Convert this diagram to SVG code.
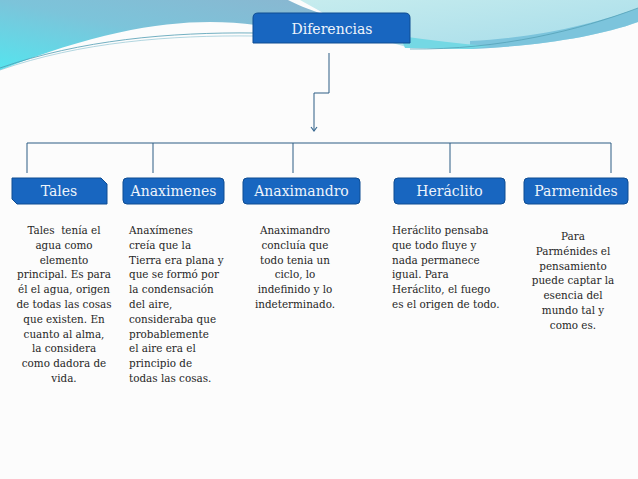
<svg xmlns="http://www.w3.org/2000/svg" width="638" height="479" viewBox="0 0 638 479">
<defs>
<linearGradient id="gl" x1="0" y1="1" x2="1" y2="0">
<stop offset="0" stop-color="#55e4ee"/>
<stop offset="0.5" stop-color="#7cc4da"/>
<stop offset="1" stop-color="#8ab6d0"/>
</linearGradient>
<linearGradient id="gr" x1="0" y1="0" x2="1" y2="1">
<stop offset="0" stop-color="#c6ecee"/>
<stop offset="1" stop-color="#a6dcea"/>
</linearGradient>
<marker id="arr" markerWidth="8" markerHeight="8" refX="6" refY="4" orient="auto" markerUnits="userSpaceOnUse">
<path d="M2,1 L6,4 L2,7" fill="none" stroke="#3a6a92" stroke-width="1.2"/>
</marker>
</defs>
<style>
.box{fill:#1866c0;stroke:#0e4c92;stroke-width:1}
.lbl{font-family:"DejaVu Serif","Liberation Serif",serif;font-size:14px;fill:#eef4fb;text-anchor:middle}
.body{font-family:"DejaVu Serif","Liberation Serif",serif;font-size:10.4px;fill:#262626;white-space:pre}
.c{text-anchor:middle}
.con{fill:none;stroke:#2c5c84;stroke-width:1}
</style>
<rect width="638" height="479" fill="#fcfcfc"/>
<g id="background">
<path d="M0,0 H288 C300,6 315,12 330,16 L262,26 C200,16 120,22 0,70 Z" fill="url(#gl)"/>
<path d="M300,0 H638 V22 C600,36 540,46 470,49 L410,48 C380,40 345,28 318,10 Z" fill="url(#gr)"/>
<path d="M470,41 C540,38 600,22 638,8 V22 C600,36 540,46 470,49 Z" fill="#7cc4dc"/>
<path d="M400,36 C430,40 460,44 490,46 L470,49 L405,48 Z" fill="#74d8e4"/>
<path d="M0,68 C80,40 170,32 255,33" fill="none" stroke="#4f9cb2" stroke-width="0.8"/>
<path d="M0,70 C80,42 170,35 255,36" fill="none" stroke="#7fbccc" stroke-width="0.6"/>
<path d="M410,49 C500,50 580,30 638,8" fill="none" stroke="#4f9cb2" stroke-width="0.7"/>
</g>
<g id="connectors">
<path class="con" d="M329,53 V93 H314 V131" marker-end="url(#arr)"/>
<path class="con" d="M27,173 V143 H611 V173"/>
<path class="con" d="M153,143 V173"/>
<path class="con" d="M293,143 V173"/>
<path class="con" d="M450,143 V173"/>
</g>
<g id="diferencias">
<path class="box" d="M253,43 V18 Q253,13 258,13 H405 Q410,13 410,18 V43 Z"/>
<text class="lbl" x="332" y="34">Diferencias</text>
</g>
<g id="tales">
<path class="box" d="M12,178 H101 L107,184 V204 H17 L12,199 Z"/>
<text class="lbl" x="59" y="196">Tales</text>
<text class="body c" x="64" y="234">Tales  tenía el<tspan x="64" dy="14.8">agua como</tspan><tspan x="64" dy="14.8">elemento</tspan><tspan x="64" dy="14.8">principal. Es para</tspan><tspan x="64" dy="14.8">él el agua, origen</tspan><tspan x="64" dy="14.8">de todas las cosas</tspan><tspan x="64" dy="14.8">que existen. En</tspan><tspan x="64" dy="14.8">cuanto al alma,</tspan><tspan x="64" dy="14.8">la considera</tspan><tspan x="64" dy="14.8">como dadora de</tspan><tspan x="64" dy="14.8">vida.</tspan></text>
</g>
<g id="anaximenes">
<rect class="box" x="123" y="178" width="101" height="26" rx="4"/>
<text class="lbl" x="173.5" y="196">Anaximenes</text>
<text class="body" x="129" y="234">Anaxímenes<tspan x="129" dy="14.8">creía que la</tspan><tspan x="129" dy="14.8">Tierra era plana y</tspan><tspan x="129" dy="14.8">que se formó por</tspan><tspan x="129" dy="14.8">la condensación</tspan><tspan x="129" dy="14.8">del aire,</tspan><tspan x="129" dy="14.8">consideraba que</tspan><tspan x="129" dy="14.8">probablemente</tspan><tspan x="129" dy="14.8">el aire era el</tspan><tspan x="129" dy="14.8">principio de</tspan><tspan x="129" dy="14.8">todas las cosas.</tspan></text>
</g>
<g id="anaximandro">
<rect class="box" x="243" y="178" width="117" height="26" rx="4"/>
<text class="lbl" x="301.5" y="196">Anaximandro</text>
<text class="body c" x="295" y="234">Anaximandro<tspan x="295" dy="14.8">concluía que</tspan><tspan x="295" dy="14.8">todo tenia un</tspan><tspan x="295" dy="14.8">ciclo, lo</tspan><tspan x="295" dy="14.8">indefinido y lo</tspan><tspan x="295" dy="14.8">indeterminado.</tspan></text>
</g>
<g id="heraclito">
<rect class="box" x="394" y="178" width="111" height="26" rx="4"/>
<text class="lbl" x="449.5" y="196">Heráclito</text>
<text class="body" x="392" y="234">Heráclito pensaba<tspan x="392" dy="14.8">que todo fluye y</tspan><tspan x="392" dy="14.8">nada permanece</tspan><tspan x="392" dy="14.8">igual. Para</tspan><tspan x="392" dy="14.8">Heráclito, el fuego</tspan><tspan x="392" dy="14.8">es el origen de todo.</tspan></text>
</g>
<g id="parmenides">
<rect class="box" x="524" y="178" width="104" height="26" rx="4"/>
<text class="lbl" x="576" y="196">Parmenides</text>
<text class="body c" x="573" y="240">Para<tspan x="573" dy="14.8">Parménides el</tspan><tspan x="573" dy="14.8">pensamiento</tspan><tspan x="573" dy="14.8">puede captar la</tspan><tspan x="573" dy="14.8">esencia del</tspan><tspan x="573" dy="14.8">mundo tal y</tspan><tspan x="573" dy="14.8">como es.</tspan></text>
</g>
</svg>
